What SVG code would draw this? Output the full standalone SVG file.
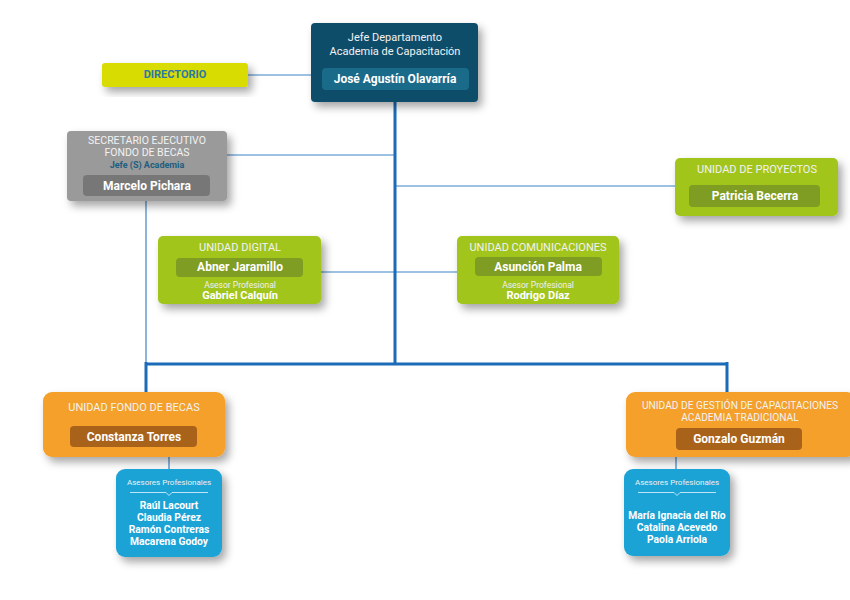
<svg xmlns="http://www.w3.org/2000/svg" width="850" height="600" viewBox="0 0 850 600">
<defs>
<filter id="sh" x="-20%" y="-20%" width="150%" height="160%">
<feDropShadow dx="4" dy="5" stdDeviation="4" flood-color="#000" flood-opacity="0.35"/>
</filter>
<style>
text{font-family:Roboto,"Noto Sans","Liberation Sans",sans-serif;text-anchor:middle}
.t{font-size:11px;fill:#f2f2f2}
.n{font-size:12px;font-weight:bold;fill:#fff}
.s{font-size:8px;fill:#f0f0f0}
.m{font-size:11px;font-weight:bold;fill:#fff}
.thin{stroke:#3a83c6;stroke-width:1.2;fill:none}
.thick{stroke:#1b6bb8;stroke-width:3;fill:none}
.g{fill:#a2c51c}
.gb{fill:#7f9d22}
.o{fill:#f4a029}
.ob{fill:#a9621a}
.b{fill:#1ca3d6}
</style>
</defs>
<rect width="850" height="600" fill="#fff"/>
<g id="connectors">
<path class="thin" d="M248 75H311"/>
<path class="thin" d="M227 155H395"/>
<path class="thin" d="M395 186H675"/>
<path class="thin" d="M321 272H457"/>
<path class="thin" d="M146 201V363"/>
<path class="thick" d="M395 102V364"/>
<path class="thick" d="M146 364H727"/>
<path class="thick" d="M146 362V392"/>
<path class="thick" d="M727 362V392"/>
<path class="thin" d="M169 457V469"/>
<path class="thin" d="M676 457V469"/>
</g>
<g id="jefe">
<rect x="311" y="23" width="167" height="79" rx="4" fill="#0d4d6b" filter="url(#sh)"/>
<text x="395" y="41" class="t" fill="#e6eef2">Jefe Departamento</text>
<text x="395" y="55" class="t">Academia de Capacitación</text>
<rect x="322" y="68" width="147" height="22" rx="4" fill="#1a6a8a"/>
<text x="395" y="83" class="n">José Agustín Olavarría</text>
</g>
<g id="directorio">
<rect x="102" y="63" width="146" height="24" rx="3" fill="#d8dc00" filter="url(#sh)"/>
<text x="175" y="78" style="font-size:11px;font-weight:bold;fill:#2a78a8">DIRECTORIO</text>
</g>
<g id="secretario">
<rect x="67" y="131" width="160" height="70" rx="4" fill="#9a9a9a" filter="url(#sh)"/>
<text x="147" y="144" class="t" style="font-size:10.5px">SECRETARIO EJECUTIVO</text>
<text x="147" y="155.5" class="t" style="font-size:10.5px">FONDO DE BECAS</text>
<text x="147" y="167.5" style="font-size:9px;font-weight:bold;fill:#1e5e80">Jefe (S) Academia</text>
<rect x="83" y="175" width="127" height="21" rx="4" fill="#777"/>
<text x="147" y="190" class="n">Marcelo Pichara</text>
</g>
<g id="proyectos">
<rect x="675" y="158" width="163" height="58" rx="5" class="g" filter="url(#sh)"/>
<text x="757" y="173" class="t">UNIDAD DE PROYECTOS</text>
<rect x="689" y="185" width="131" height="22" rx="4" class="gb"/>
<text x="755" y="200" class="n">Patricia Becerra</text>
</g>
<g id="digital">
<rect x="158" y="236" width="163" height="68" rx="5" class="g" filter="url(#sh)"/>
<text x="240" y="251" class="t">UNIDAD DIGITAL</text>
<rect x="176" y="258" width="127" height="19" rx="4" class="gb"/>
<text x="240" y="271" class="n">Abner Jaramillo</text>
<text x="240" y="288" class="s" style="font-size:8.5px">Asesor Profesional</text>
<text x="240" y="299" class="m">Gabriel Calquín</text>
</g>
<g id="comunicaciones">
<rect x="457" y="236" width="162" height="68" rx="5" class="g" filter="url(#sh)"/>
<text x="538" y="251" class="t">UNIDAD COMUNICACIONES</text>
<rect x="475" y="257" width="127" height="19" rx="4" class="gb"/>
<text x="538" y="271" class="n">Asunción Palma</text>
<text x="538" y="288" class="s" style="font-size:8.5px">Asesor Profesional</text>
<text x="538" y="299" class="m">Rodrigo Díaz</text>
</g>
<g id="fondo">
<rect x="43" y="392" width="182" height="65" rx="9" class="o" filter="url(#sh)"/>
<text x="134" y="411" class="t">UNIDAD FONDO DE BECAS</text>
<rect x="70" y="426" width="127" height="21" rx="4" class="ob"/>
<text x="134" y="441" class="n">Constanza Torres</text>
</g>
<g id="asesores-fondo">
<rect x="116" y="469" width="106" height="88" rx="9" class="b" filter="url(#sh)"/>
<text x="169" y="485" class="s">Asesores Profesionales</text>
<path d="M130 492.5H166L169 495.5L172 492.5H208" stroke="#e8f6fc" stroke-width="0.8" fill="none"/>
<text x="169" y="509" class="m" style="font-size:10.3px">Raúl Lacourt</text>
<text x="169" y="521" class="m" style="font-size:10.3px">Claudia Pérez</text>
<text x="169" y="533" class="m" style="font-size:10.3px">Ramón Contreras</text>
<text x="169" y="545" class="m" style="font-size:10.3px">Macarena Godoy</text>
</g>
<g id="gestion">
<rect x="626" y="392" width="230" height="65" rx="9" class="o" filter="url(#sh)"/>
<text x="740" y="409" class="t" style="font-size:10.2px">UNIDAD DE GESTIÓN DE CAPACITACIONES</text>
<text x="740" y="421" class="t" style="font-size:10.2px">ACADEMIA TRADICIONAL</text>
<rect x="676" y="428" width="126" height="22" rx="4" class="ob"/>
<text x="739" y="443" class="n">Gonzalo Guzmán</text>
</g>
<g id="asesores-gestion">
<rect x="624" y="469" width="106" height="87" rx="9" class="b" filter="url(#sh)"/>
<text x="677" y="485" class="s">Asesores Profesionales</text>
<path d="M638 492.5H674L677 495.5L680 492.5H716" stroke="#e8f6fc" stroke-width="0.8" fill="none"/>
<text x="677" y="519" class="m" style="font-size:10.3px">María Ignacia del Río</text>
<text x="677" y="531" class="m" style="font-size:10.3px">Catalina Acevedo</text>
<text x="677" y="543" class="m" style="font-size:10.3px">Paola Arriola</text>
</g>
</svg>
